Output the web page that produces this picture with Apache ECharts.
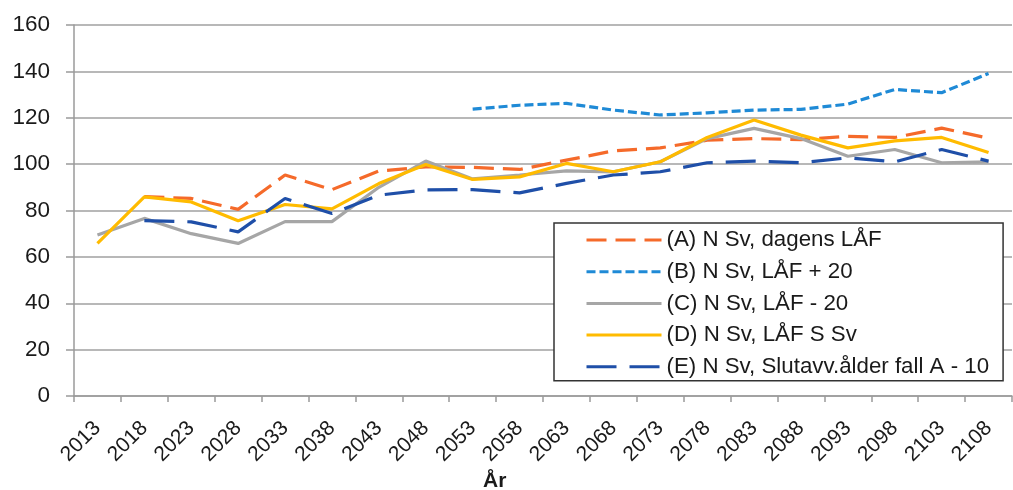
<!DOCTYPE html>
<html>
<head>
<meta charset="utf-8">
<script src="https://cdn.jsdelivr.net/npm/echarts@6/dist/echarts.min.js"></script>
<style>html,body{margin:0;padding:0;background:#fff}#c{width:1013px;height:490px}</style>
</head>
<body>
<div id="c"></div>
<script>
const years = ['2013','2018','2023','2028','2033','2038','2043','2048','2053','2058','2063','2068','2073','2078','2083','2088','2093','2098','2103','2108'];
const yTicks = {min: 0, max: 160, interval: 20};
const axisTitle = 'År';
const namesList = ['(A) N Sv, dagens LÅF', '(B) N Sv, LÅF + 20', '(C) N Sv, LÅF - 20', '(D) N Sv, LÅF S Sv', '(E) N Sv, Slutavv.ålder fall A - 10'];
const seriesA = [null, 86, 85.2, 80.5, 95.3, 89, 97, 98.8, 98.6, 97.7, 101.7, 105.7, 107, 110.3, 111, 110.6, 112, 111.5, 115.5, 111.2];
const seriesB = [null, null, null, null, null, null, null, null, 123.7, 125.4, 126.2, 123.3, 121.2, 122.1, 123.3, 123.6, 125.9, 132.2, 130.8, 139.1];
const seriesC = [69.4, 76.6, 70, 65.8, 75.2, 75.2, 90, 101.3, 93.6, 95.3, 97.1, 96.7, 101, 111, 115.4, 111, 103.4, 106.3, 100.6, 101];
const seriesD = [65.8, 85.9, 83.7, 75.6, 82.6, 80.7, 91.6, 99.8, 93.4, 94.5, 100.3, 96.7, 101, 111.5, 119, 112.5, 107, 110, 111.5, 105];
const seriesE = [null, 75.6, 75.1, 70.8, 85.2, 78.7, 86.6, 88.9, 89, 87.6, 91.7, 95.3, 96.7, 100.6, 101.3, 100.6, 102.7, 101, 106.3, 101.3];

const FONT = "'Liberation Sans', Arial, sans-serif";
const chart = echarts.init(document.getElementById('c'));
function mk(name, data, color, type) {
  return {
    name: name, type: 'line', data: data, showSymbol: false, symbol: 'none',
    connectNulls: false, animation: false,
    lineStyle: {color: color, width: 3.2, type: type},
    itemStyle: {color: color}
  };
}
chart.setOption({
  animation: false,
  textStyle: {fontFamily: FONT},
  grid: {left: 74, right: 1, top: 25, bottom: 94, containLabel: false},
  xAxis: {
    type: 'category', data: years, boundaryGap: true,
    axisLine: {lineStyle: {color: '#9a9a9a', width: 1.5}},
    axisTick: {show: true, length: 6, alignWithLabel: false, lineStyle: {color: '#9a9a9a', width: 1.5}},
    axisLabel: {rotate: 45, fontSize: 21, color: '#1a1a1a', margin: 29, interval: 0, fontFamily: FONT},
    splitLine: {show: false}
  },
  yAxis: {
    type: 'value', min: yTicks.min, max: yTicks.max, interval: yTicks.interval,
    axisLine: {show: true, lineStyle: {color: '#9a9a9a', width: 1.5}},
    axisTick: {show: true, length: 8, lineStyle: {color: '#9a9a9a', width: 1.5}},
    axisLabel: {fontSize: 22.5, color: '#1a1a1a', margin: 24, fontFamily: FONT},
    splitLine: {show: true, lineStyle: {color: '#a0a0a0', width: 1.5}}
  },
  legend: {
    orient: 'vertical', left: 554, top: 223,
    data: namesList,
    itemWidth: 75, itemHeight: 20, itemGap: 9.7,
    padding: [6, 14, 3, 31],
    backgroundColor: '#ffffff', borderColor: '#333333', borderWidth: 1.5,
    itemStyle: {opacity: 0},
    lineStyle: {width: 3},
    textStyle: {fontSize: 22.3, color: '#1a1a1a', fontFamily: FONT},
    selectedMode: false
  },
  graphic: [{
    type: 'text', left: 483, top: 471,
    style: {text: axisTitle, font: "bold 21px " + FONT, fill: '#1a1a1a'}
  }],
  series: [
    mk(namesList[0], seriesA, '#F56A2A', [20, 9]),
    mk(namesList[1], seriesB, '#1F8AD6', [9, 4]),
    mk(namesList[2], seriesC, '#A6A6A6', 'solid'),
    mk(namesList[3], seriesD, '#FFBB00', 'solid'),
    mk(namesList[4], seriesE, '#1F4FA8', [30, 13])
  ]
});
</script>
</body>
</html>
